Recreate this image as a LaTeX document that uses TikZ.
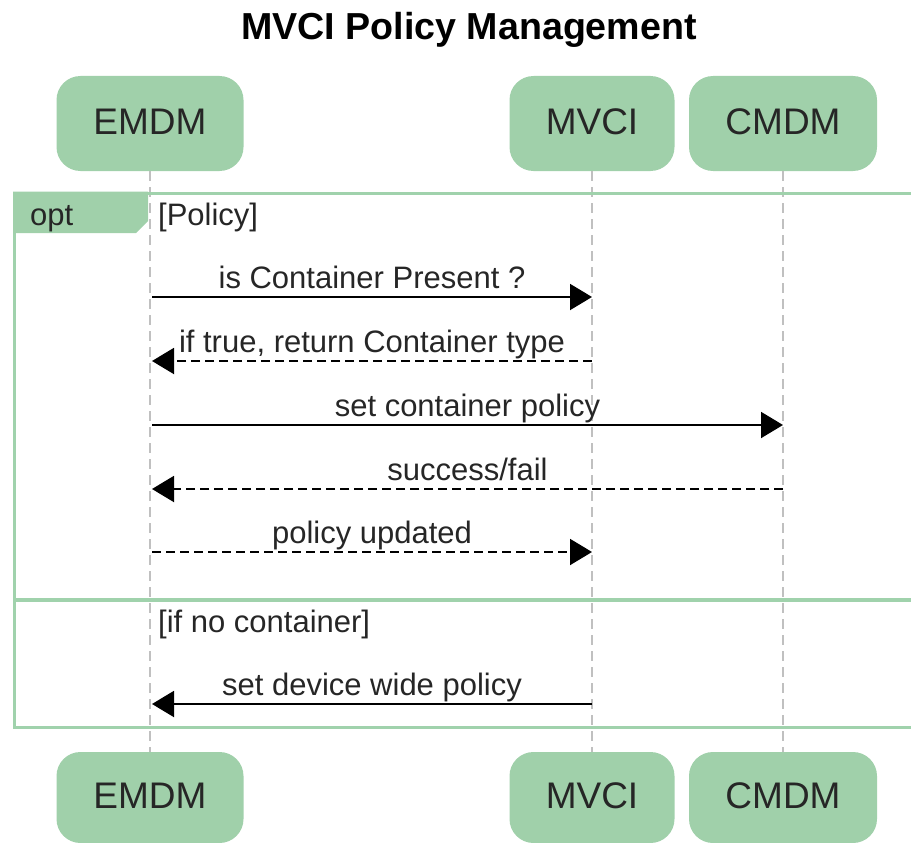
\documentclass[tikz,border=0pt]{standalone}
\usepackage{fontspec}
\setmainfont{Liberation Sans}
\usetikzlibrary{arrows.meta}
\definecolor{actfill}{RGB}{160,208,170}
\definecolor{framegreen}{RGB}{160,210,172}
\definecolor{lifegray}{RGB}{192,192,192}

\begin{document}
\begin{tikzpicture}[x=1pt,y=-1pt,
  actor/.style={fill=actfill, rounded corners=24pt, minimum height=95pt,
    inner sep=0pt, text depth=4pt, font=\fontsize{37}{44}\selectfont, text=black!85},
  lifeline/.style={lifegray, line width=2pt, dash pattern=on 10pt off 6pt},
  msg/.style={line width=2pt, -{Triangle[length=22pt,width=26pt]}},
  reply/.style={msg, dash pattern=on 9pt off 5pt},
  msglabel/.style={font=\fontsize{31}{37}\selectfont, anchor=base,
    inner sep=0pt, yshift=9pt, text=black!85},
  guard/.style={font=\fontsize{31}{37}\selectfont, anchor=base west,
    inner sep=0pt, text=black!85},
  framewall/.style={framegreen, line width=3pt},
]
\useasboundingbox (0,0) rectangle (911,843);

% title
\node[font=\bfseries\fontsize{37.6}{44}\selectfont, anchor=base, inner sep=0pt]
  (title) at (469,40) {MVCI Policy Management};

% participants, top and bottom
\node[actor, minimum width=187pt] (eT) at (150,123.5) {EMDM};
\node[actor, minimum width=165pt] (mT) at (592,123.5) {MVCI};
\node[actor, minimum width=188pt] (cT) at (783,123.5) {CMDM};
\node[actor, minimum width=187pt, minimum height=91pt] (eB) at (150,797.5) {EMDM};
\node[actor, minimum width=165pt, minimum height=91pt] (mB) at (592,797.5) {MVCI};
\node[actor, minimum width=188pt, minimum height=91pt] (cB) at (783,797.5) {CMDM};

% lifelines
\draw[lifeline] (eT.south) -- (eB.north);
\draw[lifeline] (mT.south) -- (mB.north);
\draw[lifeline] (cT.south) -- (cB.north);

% opt fragment
\draw[framewall] (920,193) -- (14.5,193) -- (14.5,727) -- (920,727);
\draw[framegreen, line width=4pt] (13,600) -- (920,600);
\fill[actfill] (13,191.5) -- (148,191.5) -- (148,221) -- (136,233) -- (13,233) -- cycle;
\node[guard] (optlbl) at (30,225) {opt};
\node[guard] (g1) at (158,225) {[Policy]};
\node[guard] (g2) at (158,632) {[if no container]};

% message anchor points on the lifelines
\coordinate (e1) at (152,297); \coordinate (m1) at (592,297);
\coordinate (m2) at (592,361); \coordinate (e2) at (152,361);
\coordinate (e3) at (152,425); \coordinate (c3) at (783,425);
\coordinate (c4) at (783,489); \coordinate (e4) at (152,489);
\coordinate (e5) at (152,552); \coordinate (m5) at (592,552);
\coordinate (m6) at (592,704); \coordinate (e6) at (152,704);

% messages
\draw[msg]   (e1) -- node[msglabel] {is Container Present ?} (m1);
\draw[reply] (m2) -- node[msglabel] {if true, return Container type} (e2);
\draw[msg]   (e3) -- node[msglabel] {set container policy} (c3);
\draw[reply] (c4) -- node[msglabel] {success/fail} (e4);
\draw[reply] (e5) -- node[msglabel] {policy updated} (m5);
\draw[msg]   (m6) -- node[msglabel] {set device wide policy} (e6);
\end{tikzpicture}
\end{document}
